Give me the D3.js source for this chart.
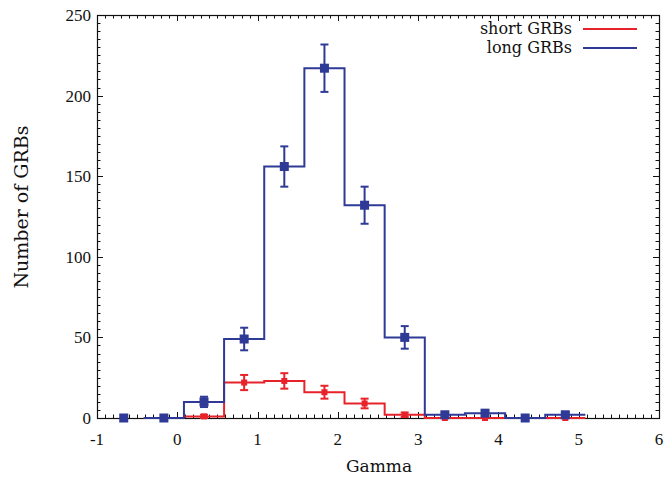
<!DOCTYPE html>
<html>
<head>
<meta charset="utf-8">
<script src="https://cdn.jsdelivr.net/npm/d3@7"></script>
<style>
  body { margin: 0; background: #fff; }
  svg text { font-family: "Liberation Serif", "Times New Roman", serif; fill: #111; }
  svg text.label { font-family: "DejaVu Serif", serif; }
</style>
</head>
<body>
<svg id="chart"></svg>
<script>
// bin centres (Gamma), bin width 0.5
var binCenters = [-0.667, -0.167, 0.333, 0.833, 1.333, 1.833, 2.333, 2.833, 3.333, 3.833, 4.333, 4.833];
var binWidth = 0.5;

var shortCounts = [0, 0, 1, 22, 23, 16, 9, 2, 0, 0, 0, 0];
var shortErrors = [0, 0, 1, 4.7, 4.8, 4, 3, 1.4, 0, 0, 0, 0];
var longCounts = [0, 0, 10, 49, 156, 217, 132, 50, 2, 3, 0, 2];
var longErrors = [0, 0, 3.2, 7, 12.5, 14.7, 11.5, 7, 1.4, 1.7, 0, 1.4];

var xTicks = [-1, 0, 1, 2, 3, 4, 5, 6];
var yTicks = [0, 50, 100, 150, 200, 250];

var seriesNames = ["short GRBs", "long GRBs"];
var seriesColors = ["#e8222a", "#2e3a96"];

var width = 667,
  height = 478,
  margin = {top: 15, right: 8, bottom: 60, left: 97};

var svg = d3.select("#chart")
  .attr("width", width)
  .attr("height", height);

var x = d3.scaleLinear().domain([-1, 6]).range([margin.left, width - margin.right]);
var y = d3.scaleLinear().domain([0, 250]).range([height - margin.bottom, margin.top]);

var x0 = x.range()[0], x1 = x.range()[1], y0 = y.range()[0], y1 = y.range()[1];

// ticks (minor + major, mirrored on all sides)
var ticks = svg.append("g").attr("stroke", "#111").attr("stroke-width", 1);
d3.range(-10, 61).forEach(function(i){
  var v = i / 10, len = (i % 10 === 0) ? 6 : 3.5, px = Math.round(x(v)) + 0.5;
  ticks.append("line").attr("x1", px).attr("x2", px).attr("y1", y0).attr("y2", y0 - len);
  ticks.append("line").attr("x1", px).attr("x2", px).attr("y1", y1).attr("y2", y1 + len);
});
d3.range(0, 51).forEach(function(i){
  var v = i * 5, len = (i % 10 === 0) ? 6 : 3.5, py = Math.round(y(v)) + 0.5;
  ticks.append("line").attr("y1", py).attr("y2", py).attr("x1", x0).attr("x2", x0 + len);
  ticks.append("line").attr("y1", py).attr("y2", py).attr("x1", x1).attr("x2", x1 - len);
});

// frame
svg.append("rect")
  .attr("x", x0 + 0.5).attr("y", y1 + 0.5)
  .attr("width", x1 - x0).attr("height", y0 - y1)
  .attr("fill", "none").attr("stroke", "#111").attr("stroke-width", 1.2);

// tick labels
svg.append("g").selectAll("text")
  .data(xTicks).enter().append("text")
  .attr("x", function(d){ return x(d); })
  .attr("y", y0 + 27)
  .attr("text-anchor", "middle")
  .attr("font-size", 17)
  .text(function(d){ return d; });

svg.append("g").selectAll("text")
  .data(yTicks).enter().append("text")
  .attr("x", x0 - 6)
  .attr("y", function(d){ return y(d) + 6; })
  .attr("text-anchor", "end")
  .attr("font-size", 17)
  .text(function(d){ return d; });

// axis labels
svg.append("text")
  .attr("class", "label")
  .attr("x", (x0 + x1) / 2 + 1)
  .attr("y", 472)
  .attr("text-anchor", "middle")
  .attr("font-size", 17)
  .text("Gamma");

svg.append("text")
  .attr("class", "label")
  .attr("transform", "translate(28,207)rotate(-90)")
  .attr("text-anchor", "middle")
  .attr("font-size", 19)
  .text("Number of GRBs");

// step histogram + error bars
function drawSeries(counts, errors, color, markerSize){
  var pts = [[binCenters[0] + binWidth / 2, 0]];
  binCenters.forEach(function(c, i){
    if (i > 0) pts.push([c - binWidth / 2, counts[i]]);
  });
  pts.push([binCenters[binCenters.length - 1] + binWidth / 2, counts[counts.length - 1]]);

  var line = d3.line()
    .x(function(d){ return x(d[0]); })
    .y(function(d){ return y(d[1]); })
    .curve(d3.curveStepAfter);

  var g = svg.append("g");
  g.append("path")
    .attr("d", line(pts))
    .attr("fill", "none")
    .attr("stroke", color)
    .attr("stroke-width", 2);

  binCenters.forEach(function(c, i){
    var cx = x(c), cy = y(counts[i]);
    if (errors[i] > 0) {
      var top = y(counts[i] + errors[i]), bot = y(counts[i] - errors[i]);
      g.append("line").attr("x1", cx).attr("x2", cx).attr("y1", top).attr("y2", bot)
        .attr("stroke", color).attr("stroke-width", 2);
      [top, bot].forEach(function(yy){
        g.append("line").attr("x1", cx - 4).attr("x2", cx + 4).attr("y1", yy).attr("y2", yy)
          .attr("stroke", color).attr("stroke-width", 2);
      });
    }
    g.append("rect")
      .attr("x", cx - markerSize / 2).attr("y", cy - markerSize / 2)
      .attr("width", markerSize).attr("height", markerSize)
      .attr("fill", color);
  });
}

drawSeries(shortCounts, shortErrors, seriesColors[0], 6);
drawSeries(longCounts, longErrors, seriesColors[1], 9);

// legend
var legend = svg.append("g");
seriesNames.forEach(function(name, i){
  var ly = 29 + i * 19;
  legend.append("text")
    .attr("class", "label")
    .attr("x", 572).attr("y", ly + 5)
    .attr("text-anchor", "end")
    .attr("font-size", 16)
    .text(name);
  legend.append("line")
    .attr("x1", 583).attr("x2", 637).attr("y1", ly).attr("y2", ly)
    .attr("stroke", seriesColors[i]).attr("stroke-width", 2);
});
</script>
</body>
</html>
